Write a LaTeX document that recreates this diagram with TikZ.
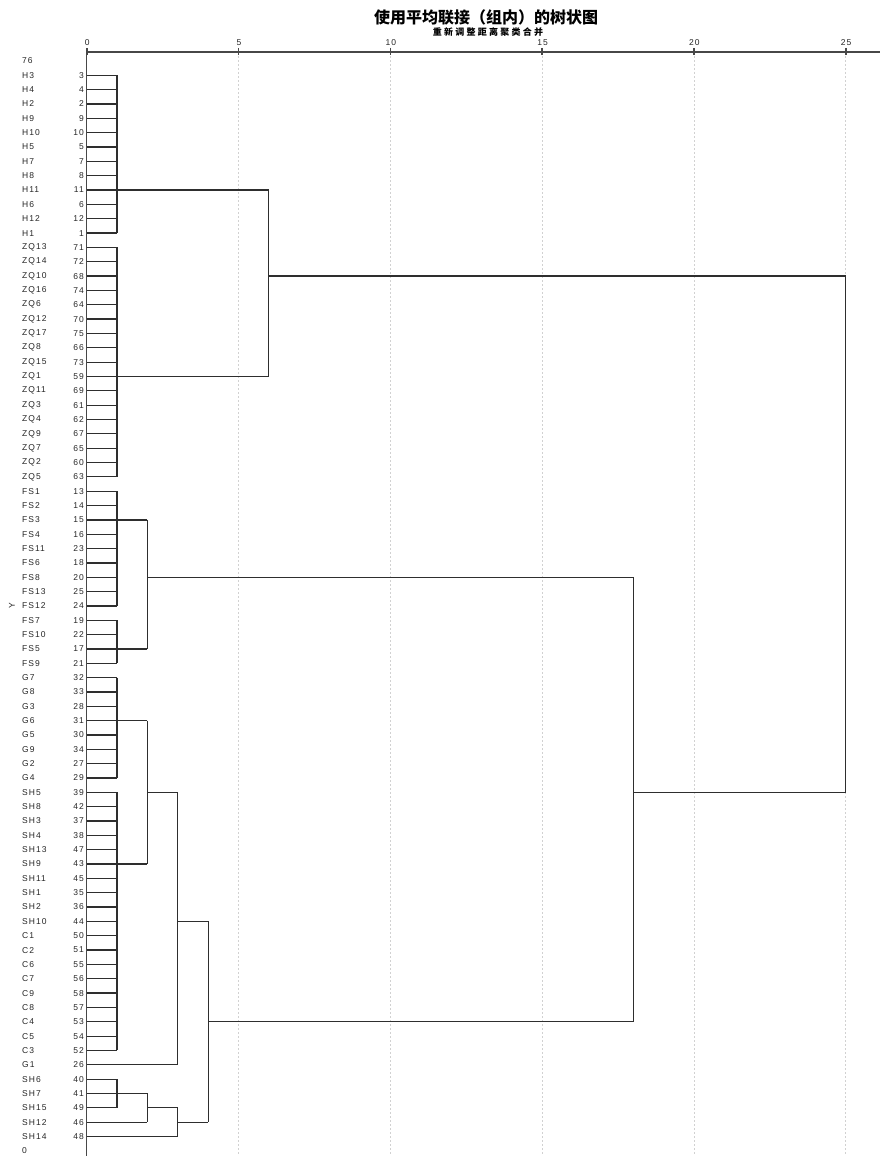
\documentclass[tikz,border=0pt]{standalone}
\usepackage{fontspec}
\setmainfont{Liberation Sans}
\newfontfamily\cjk{Noto Sans CJK SC}
\newfontfamily\cjksp{Noto Sans CJK SC}[LetterSpace=25]
\newfontfamily\labfont{Liberation Sans}[LetterSpace=12]
\begin{document}
\begin{tikzpicture}[x=1pt,y=-1pt,
  namelab/.style={anchor=west,inner sep=0pt,font=\labfont\fontsize{8.5}{9}\selectfont,text=black!85},
  numlab/.style={anchor=east,inner sep=0pt,font=\labfont\fontsize{8.5}{9}\selectfont,text=black!85},
  ticklab/.style={inner sep=0pt,font=\labfont\fontsize{8.5}{9}\selectfont,text=black!85},
  dend/.style={draw=black!82,line width=1.25pt},
  axisline/.style={draw=black!72,line width=1.3pt},
  grid/.style={draw=black!18,line width=0.7pt,dash pattern=on 2pt off 2pt},
  titlefont/.style={font=\cjk\bfseries\fontsize{16}{16}\selectfont},
  subfont/.style={font=\cjksp\bfseries\fontsize{9}{10}\selectfont}]
\useasboundingbox (0,0) rectangle (880,1156);
\fill[white] (0,0) rectangle (880,1156);
% column coordinates (distance units)
\coordinate (c0) at (86.7,52);
\coordinate (c1) at (117.06,52);
\coordinate (c2) at (147.42,52);
\coordinate (c3) at (177.78,52);
\coordinate (c4) at (208.14,52);
\coordinate (c6) at (268.86,52);
\coordinate (c18) at (633.18,52);
\coordinate (c25) at (845.7,52);
% grid lines and ticks
\foreach \k/\v in {0/0,5/5,10/10,15/15,20/20,25/25}{
  \coordinate (t\k) at ({86.7+30.36*\k},52);
  \node[ticklab] (tl\k) at ({86.7+30.36*\k+0.5},43) {\v};
}
\foreach \k in {5,10,15,20,25}{
  \draw[grid] (t\k) -- ++(0,1104);
}
\coordinate (axisend) at (880,52);
\coordinate (axisbot) at (86.7,1156);
\draw[axisline] (t0) -- (axisend);
\draw[axisline] (t0) -- (axisbot);
\foreach \k in {0,5,10,15,20,25}{
  \draw[axisline,line width=1.6pt] (t\k) ++(0,-4) -- ++(0,7);
}
% title
\node[titlefont] (title) at (486,17) {使用平均联接（组内）的树状图};
\node[subfont] (subtitle) at (488,32.5) {重新调整距离聚类合并};
% row labels
\node[namelab] (n0) at (22,61) {76};
\node[namelab] (n76) at (22,{61+14.34*76}) {0};
\foreach \i/\n/\m in {1/H3/3,2/H4/4,3/H2/2,4/H9/9,5/H10/10,6/H5/5,7/H7/7,8/H8/8,9/H11/11,10/H6/6,11/H12/12,12/H1/1,
 13/ZQ13/71,14/ZQ14/72,15/ZQ10/68,16/ZQ16/74,17/ZQ6/64,18/ZQ12/70,19/ZQ17/75,20/ZQ8/66,21/ZQ15/73,22/ZQ1/59,23/ZQ11/69,24/ZQ3/61,25/ZQ4/62,26/ZQ9/67,27/ZQ7/65,28/ZQ2/60,29/ZQ5/63,
 30/FS1/13,31/FS2/14,32/FS3/15,33/FS4/16,34/FS11/23,35/FS6/18,36/FS8/20,37/FS13/25,38/FS12/24,39/FS7/19,40/FS10/22,41/FS5/17,42/FS9/21,
 43/G7/32,44/G8/33,45/G3/28,46/G6/31,47/G5/30,48/G9/34,49/G2/27,50/G4/29,
 51/SH5/39,52/SH8/42,53/SH3/37,54/SH4/38,55/SH13/47,56/SH9/43,57/SH11/45,58/SH1/35,59/SH2/36,60/SH10/44,
 61/C1/50,62/C2/51,63/C6/55,64/C7/56,65/C9/58,66/C8/57,67/C4/53,68/C5/54,69/C3/52,
 70/G1/26,71/SH6/40,72/SH7/41,73/SH15/49,74/SH12/46,75/SH14/48}{
  \node[namelab] (n\i) at (22,{61+14.34*\i}) {\n};
  \node[numlab] (m\i) at (84,{61+14.34*\i}) {\m};
  \coordinate (r\i) at (86.7,{61+14.34*\i});
}
\node[ticklab,rotate=90] (ylab) at (12,{61+14.34*38}) {Y};
% leaves to first merge level
\foreach \i in {1,...,69,71,72,73}{
  \draw[dend] (r\i) -- (r\i -| c1);
}
\draw[dend] (r70) -- (r70 -| c3);
\draw[dend] (r74) -- (r74 -| c2);
\draw[dend] (r75) -- (r75 -| c3);
% verticals at distance 1
\draw[dend] (r1 -| c1) -- (r12 -| c1);
\draw[dend] (r13 -| c1) -- (r29 -| c1);
\draw[dend] (r30 -| c1) -- (r38 -| c1);
\draw[dend] (r39 -| c1) -- (r42 -| c1);
\draw[dend] (r43 -| c1) -- (r50 -| c1);
\draw[dend] (r51 -| c1) -- (r69 -| c1);
\draw[dend] (r71 -| c1) -- (r73 -| c1);
% merges at distance 2
\draw[dend] (r32 -| c1) -- (r32 -| c2);
\draw[dend] (r41 -| c1) -- (r41 -| c2);
\draw[dend] (r32 -| c2) -- (r41 -| c2);
\draw[dend] (r46 -| c1) -- (r46 -| c2);
\draw[dend] (r56 -| c1) -- (r56 -| c2);
\draw[dend] (r46 -| c2) -- (r56 -| c2);
\draw[dend] (r72 -| c1) -- (r72 -| c2);
\draw[dend] (r72 -| c2) -- (r74 -| c2);
% merges at distance 3
\draw[dend] (r51 -| c2) -- (r51 -| c3);
\draw[dend] (r51 -| c3) -- (r70 -| c3);
\draw[dend] (r73 -| c2) -- (r73 -| c3);
\draw[dend] (r73 -| c3) -- (r75 -| c3);
% merge at distance 4
\draw[dend] (r60 -| c3) -- (r60 -| c4);
\draw[dend] (r74 -| c3) -- (r74 -| c4);
\draw[dend] (r60 -| c4) -- (r74 -| c4);
% merge at distance 6
\draw[dend] (r9 -| c1) -- (r9 -| c6);
\draw[dend] (r22 -| c1) -- (r22 -| c6);
\draw[dend] (r9 -| c6) -- (r22 -| c6);
% merge at distance 18
\draw[dend] (r36 -| c2) -- (r36 -| c18);
\draw[dend] (r67 -| c4) -- (r67 -| c18);
\draw[dend] (r36 -| c18) -- (r67 -| c18);
% merge at distance 25
\draw[dend] (r15 -| c6) -- (r15 -| c25);
\draw[dend] (r51 -| c18) -- (r51 -| c25);
\draw[dend] (r15 -| c25) -- (r51 -| c25);
\end{tikzpicture}
\end{document}
